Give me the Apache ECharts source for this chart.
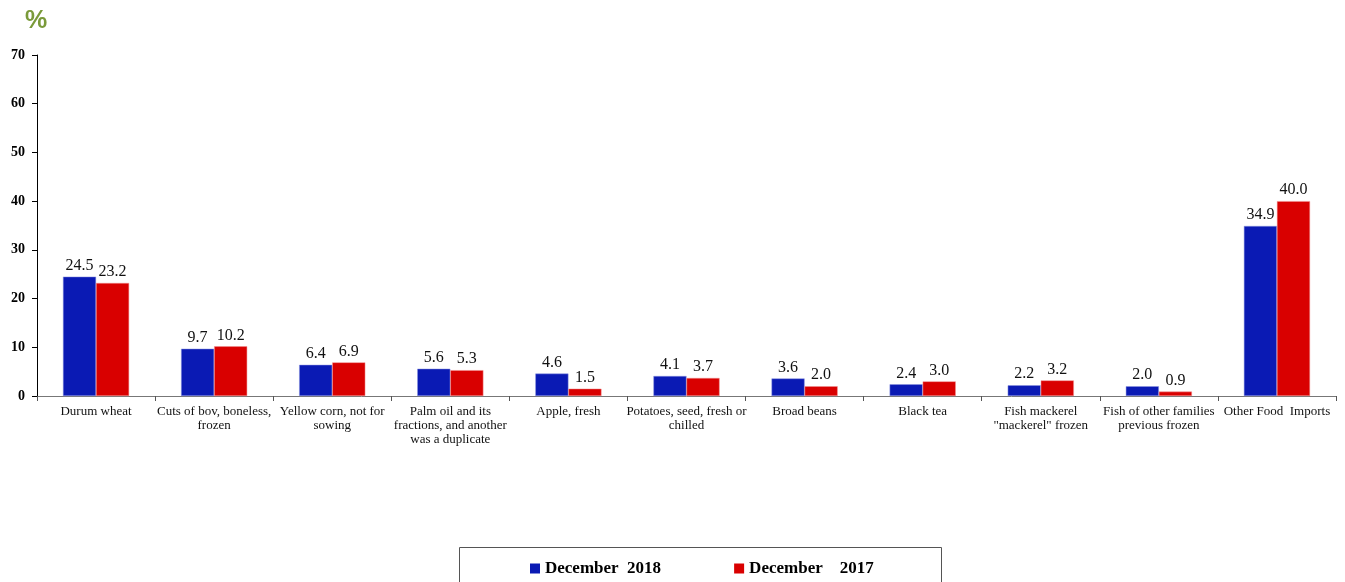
<!DOCTYPE html>
<html><head><meta charset="utf-8">
<script src="https://cdn.jsdelivr.net/npm/echarts@6/dist/echarts.min.js"></script>
<style>html,body{margin:0;padding:0;background:#fff}#c{width:1345px;height:582px}</style>
</head><body><div id="c"></div>
<script>
const categories = ["Durum wheat","Cuts of bov, boneless,\nfrozen","Yellow corn, not for\nsowing","Palm oil and its\nfractions, and another\nwas a duplicate","Apple, fresh","Potatoes, seed, fresh or\nchilled","Broad beans","Black tea","Fish mackerel\n\"mackerel\" frozen","Fish of other families\nprevious frozen","Other Food  Imports"];
const dec2018 = [24.5,9.7,6.4,5.6,4.6,4.1,3.6,2.4,2.2,2.0,34.9];
const dec2017 = [23.2,10.2,6.9,5.3,1.5,3.7,2.0,3.0,3.2,0.9,40.0];
const seriesNames = ["December  2018","December    2017"];
const yTicks = {min:0,max:70,interval:10};

const chart = echarts.init(document.getElementById('c'));
const serif = '"Liberation Serif","Times New Roman",serif';
const lbl = {show:true,position:'top',distance:3,fontFamily:serif,fontSize:16,color:'#111',formatter:p=>p.value.toFixed(1)};
chart.setOption({
  animation:false,
  grid:{left:37,right:9,top:55,bottom:186},
  graphic:[
    {type:'text',left:25,top:9,style:{text:'%',fontFamily:'"Liberation Sans",Arial,sans-serif',fontWeight:'bold',fontSize:25,fill:'#7A9A3A',shadowColor:'rgba(0,0,0,0.3)',shadowBlur:2,shadowOffsetX:1,shadowOffsetY:1}},
    {type:'rect',shape:{x:459.5,y:547.5,width:482,height:50},style:{fill:'none',stroke:'#555',lineWidth:1}}
  ],
  legend:{left:525,top:555,itemWidth:10,itemHeight:10,itemGap:73,icon:'rect',
    itemStyle:{borderWidth:0},
    textStyle:{fontFamily:serif,fontWeight:'bold',fontSize:17,color:'#000'},
    data:seriesNames},
  xAxis:{type:'category',data:categories,
    axisLine:{lineStyle:{color:'#777'}},
    axisTick:{show:true,length:5,lineStyle:{color:'#555'}},
    axisLabel:{interval:0,fontFamily:serif,fontSize:13,color:'#111',lineHeight:14,margin:9}},
  yAxis:{type:'value',min:yTicks.min,max:yTicks.max,interval:yTicks.interval,
    splitLine:{show:false},
    axisLine:{show:true,lineStyle:{color:'#000'}},
    axisTick:{show:true,length:5,lineStyle:{color:'#000'}},
    axisLabel:{fontFamily:serif,fontWeight:'bold',fontSize:14,color:'#000',margin:12}},
  series:[
    {name:seriesNames[0],type:'bar',data:dec2018,barGap:'0%',barCategoryGap:'44%',
      itemStyle:{color:'#0A1AB4',borderColor:'#8f96e0',borderWidth:0.5},label:lbl},
    {name:seriesNames[1],type:'bar',data:dec2017,barGap:'0%',barCategoryGap:'44%',
      itemStyle:{color:'#D90000',borderColor:'#f09090',borderWidth:0.5},label:lbl}
  ]
});
</script></body></html>
